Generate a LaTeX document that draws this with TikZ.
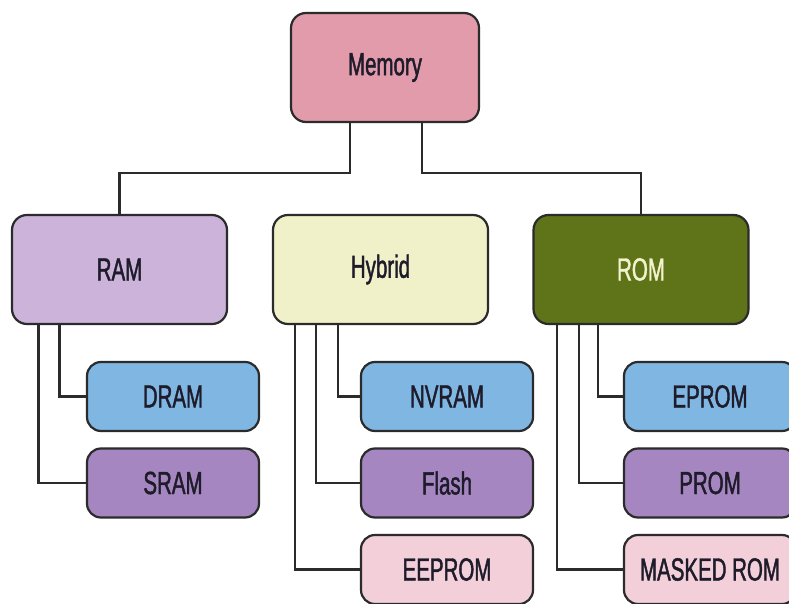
\documentclass[tikz,border=0pt]{standalone}
\usepackage{fontspec}
\setmainfont{Liberation Sans}[FakeStretch=0.64,FakeBold=1.3]
\definecolor{memfill}{HTML}{E29BAB}
\definecolor{ramfill}{HTML}{CBB3D9}
\definecolor{hybfill}{HTML}{F1F1C9}
\definecolor{romfill}{HTML}{5F7418}
\definecolor{bluefill}{HTML}{7FB6E2}
\definecolor{purpfill}{HTML}{A586C0}
\definecolor{pinkfill}{HTML}{F2CFD9}
\definecolor{edge}{HTML}{2B2B2B}
\definecolor{txt}{HTML}{1E1B2A}
\definecolor{romtxt}{HTML}{F2F2CC}
\tikzset{
  x=1pt, y=-1pt,
  bigbox/.style={draw=edge, line width=2.2pt, rounded corners=15pt, minimum width=215pt, minimum height=109pt, inner sep=0pt, font=\fontsize{32}{34}\selectfont, text=txt},
  smallbox/.style={draw=edge, line width=2.2pt, rounded corners=14pt, minimum width=172pt, minimum height=69pt, inner sep=0pt, font=\fontsize{32}{34}\selectfont, text=txt},
  conn/.style={draw=edge, line width=2.2pt}
}
\begin{document}
\begin{tikzpicture}
\clip (0,0) rectangle (789,604);
\fill[white] (0,0) rectangle (789,604);
\node[bigbox, fill=memfill, minimum width=188pt] (mem) at (385,67.5) {Memory};
\node[bigbox, fill=ramfill] (ram) at (119.5,269.5) {RAM};
\node[bigbox, fill=hybfill] (hyb) at (380.5,269.5) {Hybrid};
\node[bigbox, fill=romfill, text=romtxt] (rom) at (641,269.5) {ROM};
\node[smallbox, fill=bluefill] (dram) at (173,396.5) {DRAM};
\node[smallbox, fill=purpfill] (sram) at (173,483) {SRAM};
\node[smallbox, fill=bluefill] (nvram) at (447,396.5) {NVRAM};
\node[smallbox, fill=purpfill] (flash) at (447,483) {Flash};
\node[smallbox, fill=pinkfill] (eeprom) at (447,569.5) {EEPROM};
\node[smallbox, fill=bluefill] (eprom) at (710,396.5) {EPROM};
\node[smallbox, fill=purpfill] (prom) at (710,483) {PROM};
\node[smallbox, fill=pinkfill] (mrom) at (710,569.5) {MASKED ROM};
\draw[conn] ([xshift=-35pt]mem.south) -- ++(0,50) -| (ram.north);
\draw[conn] ([xshift=37pt]mem.south) -- ++(0,50) -| (rom.north);
\draw[conn] ([xshift=-60pt]ram.south) |- (dram.west);
\draw[conn] ([xshift=-81pt]ram.south) |- (sram.west);
\draw[conn] ([xshift=-42.5pt]hyb.south) |- (nvram.west);
\draw[conn] ([xshift=-64.5pt]hyb.south) |- (flash.west);
\draw[conn] ([xshift=-85.5pt]hyb.south) |- (eeprom.west);
\draw[conn] ([xshift=-43pt]rom.south) |- (eprom.west);
\draw[conn] ([xshift=-62pt]rom.south) |- (prom.west);
\draw[conn] ([xshift=-84pt]rom.south) |- (mrom.west);
\end{tikzpicture}
\end{document}
